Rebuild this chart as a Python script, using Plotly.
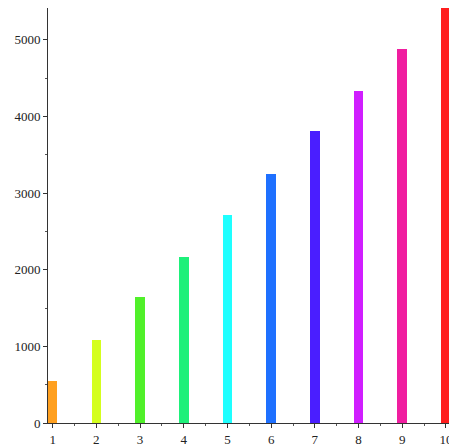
import plotly.graph_objects as go

categories = [1, 2, 3, 4, 5, 6, 7, 8, 9, 10]
values = [550, 1085, 1640, 2165, 2720, 3250, 3805, 4335, 4885, 5420]
colors = ["#FFA020", "#D4FF1E", "#50F02A", "#1EF07A", "#1EFFFF",
          "#1E70FF", "#4A1EFF", "#D01EFF", "#F01EA0", "#FF1E1E"]
x_ticks = [1, 2, 3, 4, 5, 6, 7, 8, 9, 10]
y_ticks = [0, 1000, 2000, 3000, 4000, 5000]

fig = go.Figure(go.Bar(x=categories, y=values, marker=dict(color=colors, line=dict(width=0)),
                       width=0.22, cliponaxis=True))

fig.update_layout(
    width=449, height=448,
    margin=dict(l=48, r=0, t=8, b=25),
    paper_bgcolor="white", plot_bgcolor="white",
    font=dict(family="Liberation Serif, Times New Roman, serif", size=13, color="#222"),
    showlegend=False,
    bargap=0,
)
fig.update_xaxes(range=[0.893, 10.07], tickvals=x_ticks, ticktext=[str(t) for t in x_ticks],
                 showgrid=False, zeroline=False, showline=True, linecolor="#333", linewidth=1,
                 ticks="outside", ticklen=4, tickcolor="#333", ticklabeloverflow="allow",
                 automargin=False,
                 minor=dict(ticks="outside", dtick=0.5, tick0=0.5, ticklen=2, tickcolor="#555"))
fig.update_yaxes(range=[0, 5415], tickvals=y_ticks, ticktext=[str(t) for t in y_ticks],
                 showgrid=False, zeroline=False, showline=True, linecolor="#333", linewidth=1,
                 ticks="outside", ticklen=4, tickcolor="#333", automargin=False,
                 minor=dict(ticks="outside", dtick=500, ticklen=2, tickcolor="#555"))

fig.write_html("out.html", config={"displayModeBar": False},
               post_script="document.body.style.margin='0';document.body.style.overflow='hidden';")
